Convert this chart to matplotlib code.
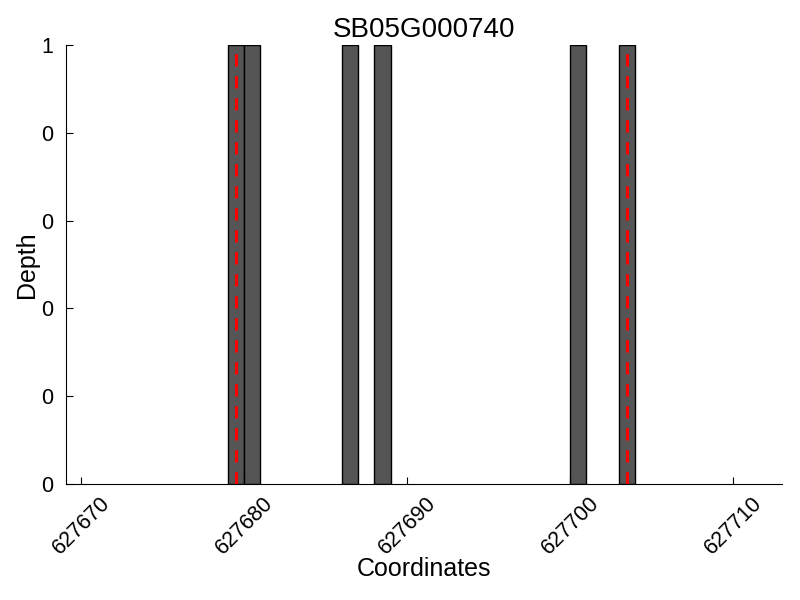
import matplotlib
matplotlib.use("Agg")
import matplotlib.pyplot as plt
from matplotlib.ticker import FormatStrFormatter

plt.rcParams['font.family'] = ['Liberation Sans', 'DejaVu Sans']

title = "SB05G000740"
positions = [627679, 627680, 627686, 627688, 627700, 627703]
depths = [1, 1, 1, 1, 1, 1]
markers = [627679.5, 627703.5]
xticks = [627670, 627680, 627690, 627700, 627710]
yticks = [0, 0.2, 0.4, 0.6, 0.8, 1.0]

fig = plt.figure(figsize=(8, 6), dpi=100)
ax = fig.add_axes([0.0825, 0.1933, 0.895, 0.7317])
ax.bar(positions, depths, width=1, align='edge', color='#555555', edgecolor='black', linewidth=1)
for m in markers:
    ax.axvline(m, color='red', linestyle=(0, (4, 3.2)), linewidth=2.2)

ax.set_xlim(627669.08, 627713.0)
ax.set_ylim(0, 1)
ax.set_xticks(xticks)
ax.set_yticks(yticks)
ax.yaxis.set_major_formatter(FormatStrFormatter('%d'))
ax.xaxis.set_major_formatter(FormatStrFormatter('%d'))
ax.spines['top'].set_visible(False)
ax.spines['right'].set_visible(False)
ax.tick_params(direction='in', labelsize=15.5, length=5)
ax.tick_params(axis='y', pad=9)
ax.tick_params(axis='x', pad=6)
plt.setp(ax.get_xticklabels(), rotation=45, ha='center', rotation_mode='default')
ax.set_title(title, fontsize=20, pad=6)
ax.set_xlabel("Coordinates", fontsize=18, labelpad=-1)
ax.set_ylabel("Depth", fontsize=18, labelpad=2)

fig.savefig("out.png", dpi=100)
